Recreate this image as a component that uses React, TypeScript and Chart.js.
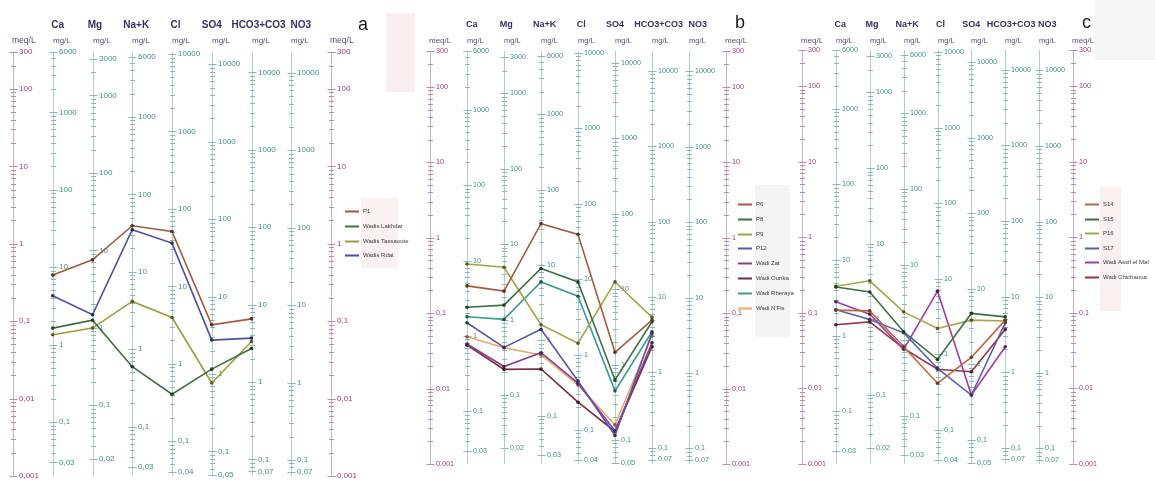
import React, { useEffect, useRef } from 'react';
import { Chart, registerables } from 'chart.js';

Chart.register(...registerables);

const PAGE_W = 1155;
const PAGE_H = 484;

// Ion columns of the Schoeller diagram, left to right
const IONS = ['Ca', 'Mg', 'Na+K', 'Cl', 'SO4', 'HCO3+CO3', 'NO3'];
// Equivalent weights (mg per meq) that graduate each mg/L axis
const EQ_WEIGHTS = [20.04, 12.15, 23.0, 35.45, 48.03, 61.02, 62.0];

// Labelled graduations (mg/L) of each ion axis
const CA_TICKS = [6000, 1000, 100, 10, 1, 0.1, 0.03];
const MG_TICKS = [3000, 1000, 100, 10, 1, 0.1, 0.02];
const NAK_TICKS = [6000, 1000, 100, 10, 1, 0.1, 0.03];
const CL_TICKS = [10000, 1000, 100, 10, 1, 0.1, 0.04];
const SO4_TICKS = [10000, 1000, 100, 10, 1, 0.1, 0.05];
const HCO3_TICKS = [10000, 1000, 100, 10, 1, 0.1, 0.07];
const NO3_TICKS = [10000, 1000, 100, 10, 1, 0.1, 0.07];
const ION_TICKS = [CA_TICKS, MG_TICKS, NAK_TICKS, CL_TICKS, SO4_TICKS, HCO3_TICKS, NO3_TICKS];

// Labelled graduations of the meq/L axes
const MEQ_TICKS = [300, 100, 10, 1, 0.1, 0.01, 0.001];
const MEQ_MIN = 0.001;
const MEQ_MAX = 300;

// Panel a (meq/L: Ca, Mg, Na+K, Cl, SO4, HCO3+CO3)
const NAMES_A = ['P1', 'Wadis Lakhdar', 'Wadis Tassaoute', 'Wadis Rdat'];
const P1 = [0.394, 0.62, 1.71, 1.44, 0.0898, 0.107];
const WADIS_LAKHDAR = [0.0814, 0.103, 0.0258, 0.0114, 0.024, 0.0444];
const WADIS_TASSAOUTE = [0.0667, 0.0814, 0.18, 0.1116, 0.0159, 0.0547];
const WADIS_RDAT = [0.213, 0.121, 1.52, 1.02, 0.057, 0.0604];

// Panel b
const NAMES_B = ['P6', 'P8', 'P9', 'P12', 'Wadi Zat', 'Wadi Ourika', 'Wadi Rheraya', "Wadi N'Fis"];
const P6 = [0.23, 0.196, 1.54, 1.11, 0.0303, 0.081];
const P8 = [0.12, 0.128, 0.392, 0.26, 0.013, 0.0769];
const P9 = [0.45, 0.407, 0.0703, 0.0399, 0.26, 0.088];
const P12 = [0.0746, 0.0352, 0.061, 0.0126, 0.00239, 0.0546];
const WADI_ZAT = [0.039, 0.0196, 0.0299, 0.0118, 0.00275, 0.0406];
const WADI_OURIKA = [0.0377, 0.018, 0.0182, 0.0066, 0.0027, 0.036];
const WADI_RHERAYA = [0.0897, 0.0828, 0.26, 0.168, 0.00933, 0.0568];
const WADI_NFIS = [0.0488, 0.0349, 0.0279, 0.0112, 0.0033, 0.0498];

// Panel c
const NAMES_C = ['S14', 'S15', 'P16', 'S17', 'Wadi Assif el Mal', 'Wadi Chichaoua'];
const S14 = [0.1086, 0.106, 0.0356, 0.0117, 0.0258, 0.08];
const S15 = [0.22, 0.189, 0.0561, 0.0242, 0.0982, 0.0885];
const P16 = [0.225, 0.265, 0.103, 0.0622, 0.08, 0.078];
const S17 = [0.11, 0.0818, 0.0544, 0.0184, 0.00818, 0.0738];
const WADI_ASSIF_EL_MAL = [0.14, 0.096, 0.0329, 0.1935, 0.00818, 0.0356];
const WADI_CHICHAOUA = [0.0694, 0.076, 0.0339, 0.0179, 0.0166, 0.0604];

type Box = { x: number; y: number; w: number; h: number; color: string };
type Panel = {
  letter: string;
  letterX: number;
  letterY: number;
  axisLeft: number;
  axisRight: number;
  top: number;
  bottom: number;
  headerSize: number;
  tickSize: number;
  unitSize: number;
  legendSize: number;
  legendX: number;
  legendY: number;
  legendGap: number;
  names: string[];
  colors: string[];
  values: number[][];
  boxes: Box[];
};

const PANELS: Panel[] = [
  {
    letter: 'a', letterX: 358, letterY: 30,
    axisLeft: 13, axisRight: 331, top: 52, bottom: 476,
    headerSize: 10, tickSize: 8, unitSize: 8, legendSize: 6,
    legendX: 345, legendY: 211, legendGap: 14.8,
    names: NAMES_A,
    colors: ['#a9573b', '#3f6e40', '#9c9c3e', '#4c4ca3'],
    values: [P1, WADIS_LAKHDAR, WADIS_TASSAOUTE, WADIS_RDAT],
    boxes: [
      { x: 386, y: 13, w: 29, h: 79, color: '#fbeeee' },
      { x: 361, y: 198, w: 37, h: 70, color: '#fcf1f1' },
    ],
  },
  {
    letter: 'b', letterX: 735, letterY: 28,
    axisLeft: 430, axisRight: 726, top: 51, bottom: 464,
    headerSize: 9, tickSize: 7.2, unitSize: 7.5, legendSize: 6,
    legendX: 738, legendY: 204, legendGap: 14.8,
    names: NAMES_B,
    colors: ['#a65a3c', '#3f6f45', '#a3a345', '#5757aa', '#8c3c90', '#7a2a3a', '#3b9b95', '#f2a463'],
    values: [P6, P8, P9, P12, WADI_ZAT, WADI_OURIKA, WADI_RHERAYA, WADI_NFIS],
    boxes: [{ x: 755, y: 185, w: 35, h: 152, color: '#f4f4f4' }],
  },
  {
    letter: 'c', letterX: 1082, letterY: 27.5,
    axisLeft: 802, axisRight: 1073, top: 50, bottom: 464,
    headerSize: 9, tickSize: 7.2, unitSize: 7.5, legendSize: 6,
    legendX: 1085, legendY: 204, legendGap: 14.6,
    names: NAMES_C,
    colors: ['#b96a40', '#3f6e40', '#a4a448', '#5d5db2', '#a23ca2', '#9a3242'],
    values: [S14, S15, P16, S17, WADI_ASSIF_EL_MAL, WADI_CHICHAOUA],
    boxes: [
      { x: 1095, y: 0, w: 60, h: 60, color: '#f6f6f6' },
      { x: 1100, y: 187, w: 21, h: 124, color: '#fbefef' },
    ],
  },
];

// Horizontal nudge of each ion header relative to its axis (at 39.75 px column spacing)
const HEADER_SHIFT = [5, 2.5, 4, 3.5, 0, 7, 9.5];

const FONT = '"Liberation Sans", Arial, sans-serif';
const MEQ_LINE = '#d2aec6';
const MEQ_TICK = '#b98ca9';
const MEQ_LABEL = '#9c3c7c';
const ION_LINE = '#a9d0ce';
const ION_TICK = '#8bb8b5';
const ION_LABEL = '#3f8f87';
const HEADER_COLOR = '#3b2e68';
const UNIT_COLOR = '#5d4a7a';

function darken(hex: string, f: number): string {
  const n = parseInt(hex.slice(1), 16);
  const r = Math.round(((n >> 16) & 255) * f);
  const g = Math.round(((n >> 8) & 255) * f);
  const b = Math.round((n & 255) * f);
  return `rgb(${r},${g},${b})`;
}

function fmt(v: number): string {
  return String(v).replace('.', ',');
}

function logGraduations(min: number, max: number): number[] {
  const out: number[] = [];
  const e0 = Math.floor(Math.log10(min));
  const e1 = Math.ceil(Math.log10(max));
  for (let e = e0; e <= e1; e++) {
    for (let k = 1; k <= 9; k++) {
      const v = parseFloat((k * Math.pow(10, e)).toPrecision(6));
      if (v >= min * 0.9999 && v <= max * 1.0001) out.push(v);
    }
  }
  return out;
}

function sameValue(a: number, b: number) {
  return Math.abs(Math.log10(a / b)) < 1e-6;
}

function drawAxis(
  ctx: CanvasRenderingContext2D,
  px: number,
  scale: any,
  labelled: number[],
  lineColor: string,
  tickColor: string,
  labelColor: string,
  fontSize: number,
) {
  const x = Math.round(px) + 0.5;
  const top = scale.getPixelForValue(scale.max);
  const bottom = scale.getPixelForValue(scale.min);
  ctx.lineWidth = 1;
  ctx.strokeStyle = lineColor;
  ctx.beginPath();
  ctx.moveTo(x, top);
  ctx.lineTo(x, bottom);
  ctx.stroke();

  ctx.strokeStyle = tickColor;
  ctx.beginPath();
  for (const v of logGraduations(scale.min, scale.max)) {
    const py = Math.round(scale.getPixelForValue(v)) + 0.5;
    const major = labelled.some((l) => sameValue(l, v));
    const h = major ? 4 : 2.5;
    ctx.moveTo(x - h, py);
    ctx.lineTo(x + h, py);
  }
  ctx.stroke();

  ctx.fillStyle = labelColor;
  ctx.font = `${fontSize}px ${FONT}`;
  ctx.textAlign = 'left';
  ctx.textBaseline = 'middle';
  for (const v of labelled) {
    ctx.fillText(fmt(v), x + 5.5, scale.getPixelForValue(v));
  }
}

function schoellerPlugin(panel: Panel) {
  return {
    id: 'schoeller-' + panel.letter,
    beforeDatasetsDraw(chart: any) {
      const ctx: CanvasRenderingContext2D = chart.ctx;
      const xs = chart.scales.x;
      const ys = chart.scales.y;
      const spacing = xs.getPixelForValue(1) - xs.getPixelForValue(0);
      ctx.save();

      for (const b of panel.boxes) {
        ctx.fillStyle = b.color;
        ctx.fillRect(b.x, b.y, b.w, b.h);
      }

      // meq/L axes at both ends
      [0, IONS.length + 1].forEach((col) => {
        drawAxis(ctx, xs.getPixelForValue(col), ys, MEQ_TICKS, MEQ_LINE, MEQ_TICK, MEQ_LABEL, panel.tickSize);
        ctx.fillStyle = UNIT_COLOR;
        ctx.font = `${panel.unitSize + 0.5}px ${FONT}`;
        ctx.textAlign = 'left';
        ctx.textBaseline = 'middle';
        ctx.fillText('meq/L', Math.round(xs.getPixelForValue(col)) - 1, 41);
      });

      // mg/L axes, one per ion
      IONS.forEach((ion, i) => {
        const scale = chart.scales['y' + ion.replace(/[^A-Za-z0-9]/g, '')];
        const px = xs.getPixelForValue(i + 1);
        drawAxis(ctx, px, scale, ION_TICKS[i], ION_LINE, ION_TICK, ION_LABEL, panel.tickSize);

        ctx.fillStyle = UNIT_COLOR;
        ctx.font = `${panel.unitSize}px ${FONT}`;
        ctx.textAlign = 'left';
        ctx.textBaseline = 'middle';
        ctx.fillText('mg/L', Math.round(px), 41);

        ctx.fillStyle = HEADER_COLOR;
        ctx.font = `bold ${panel.headerSize}px ${FONT}`;
        ctx.textAlign = 'center';
        ctx.fillText(ion, px + HEADER_SHIFT[i] * (spacing / 39.75), 25);
      });

      // panel letter
      ctx.fillStyle = '#222222';
      ctx.font = `18px ${FONT}`;
      ctx.textAlign = 'left';
      ctx.textBaseline = 'alphabetic';
      ctx.fillText(panel.letter, panel.letterX, panel.letterY);

      // legend
      chart.data.datasets.forEach((ds: any, i: number) => {
        const y = Math.round(panel.legendY + i * panel.legendGap) + 0.5;
        ctx.strokeStyle = ds.borderColor;
        ctx.lineWidth = 2;
        ctx.beginPath();
        ctx.moveTo(panel.legendX, y);
        ctx.lineTo(panel.legendX + 14, y);
        ctx.stroke();
        ctx.fillStyle = '#3a3a3a';
        ctx.font = `${panel.legendSize}px ${FONT}`;
        ctx.textAlign = 'left';
        ctx.textBaseline = 'middle';
        ctx.fillText(ds.label, panel.legendX + 18, y);
      });

      ctx.restore();
    },
  };
}

function buildConfig(panel: Panel): any {
  const scales: any = {
    x: { type: 'linear', min: 0, max: IONS.length + 1, display: false },
    y: { type: 'logarithmic', min: MEQ_MIN, max: MEQ_MAX, display: false },
  };
  IONS.forEach((ion, i) => {
    scales['y' + ion.replace(/[^A-Za-z0-9]/g, '')] = {
      type: 'logarithmic',
      axis: 'y',
      position: 'left',
      min: MEQ_MIN * EQ_WEIGHTS[i],
      max: MEQ_MAX * EQ_WEIGHTS[i],
      display: false,
    };
  });

  const datasets = panel.names.map((name, i) => ({
    label: name,
    data: panel.values[i].map((v, j) => ({ x: j + 1, y: v })),
    borderColor: panel.colors[i],
    backgroundColor: panel.colors[i],
    pointBackgroundColor: darken(panel.colors[i], 0.55),
    pointBorderColor: darken(panel.colors[i], 0.55),
    pointRadius: 1.8,
    pointBorderWidth: 0,
    borderWidth: 1.6,
    tension: 0,
    fill: false,
    clip: 10,
  }));

  return {
    type: 'line',
    data: { datasets },
    options: {
      responsive: false,
      animation: false,
      devicePixelRatio: 1,
      events: [],
      layout: {
        padding: {
          left: panel.axisLeft,
          right: PAGE_W - panel.axisRight,
          top: panel.top,
          bottom: PAGE_H - panel.bottom,
        },
      },
      scales,
      plugins: {
        legend: { display: false },
        tooltip: { enabled: false },
        title: { display: false },
      },
    },
    plugins: [schoellerPlugin(panel)],
  };
}

export default function App() {
  const refs = useRef<(HTMLCanvasElement | null)[]>([]);

  useEffect(() => {
    const charts = PANELS.map((p, i) => new Chart(refs.current[i] as HTMLCanvasElement, buildConfig(p)));
    return () => charts.forEach((c) => c.destroy());
  }, []);

  return (
    <div style={{ position: 'absolute', left: 0, top: 0, width: PAGE_W, height: PAGE_H, background: '#ffffff' }}>
      {PANELS.map((p, i) => (
        <canvas
          key={p.letter}
          ref={(el) => {
            refs.current[i] = el;
          }}
          width={PAGE_W}
          height={PAGE_H}
          style={{ position: 'absolute', left: 0, top: 0, width: PAGE_W, height: PAGE_H }}
        />
      ))}
    </div>
  );
}
